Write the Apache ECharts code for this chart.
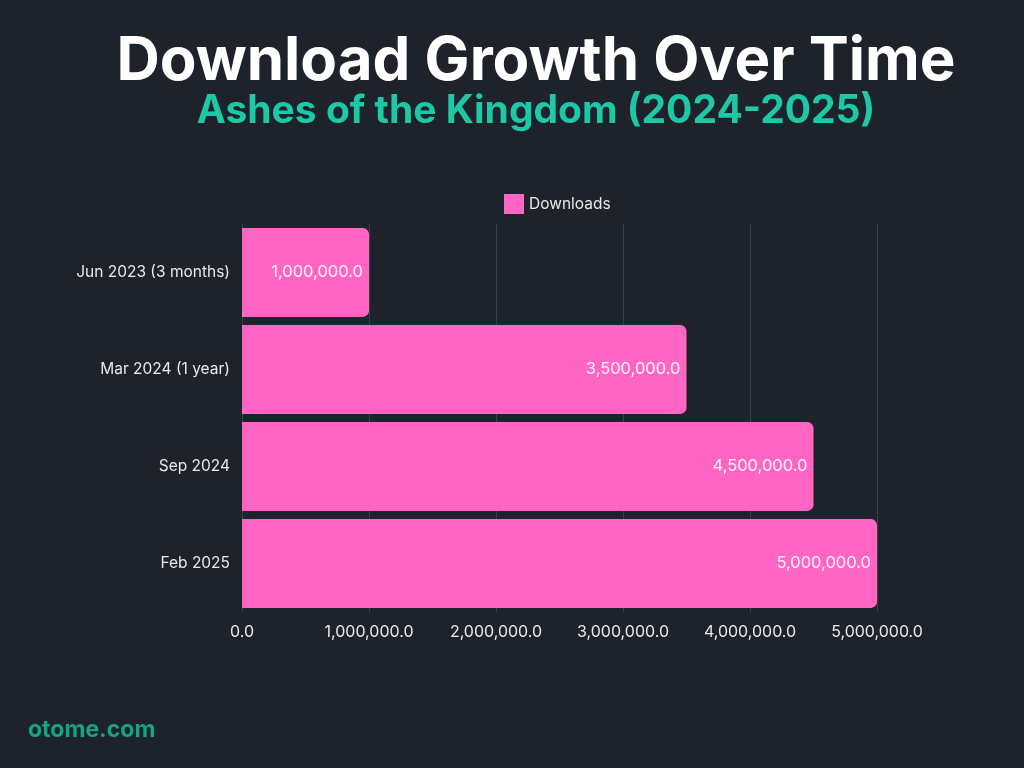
<!DOCTYPE html>
<html><head><meta charset="utf-8">
<script src="https://cdn.jsdelivr.net/npm/echarts@6/dist/echarts.min.js"></script>
<style>html,body{margin:0;padding:0;background:#1e222a;}#c{width:1024px;height:768px;}</style>
</head><body><div id="c"></div>
<script>
const categories = ["Jun 2023 (3 months)", "Mar 2024 (1 year)", "Sep 2024", "Feb 2025"];
const downloads = [1000000, 3500000, 4500000, 5000000];
const seriesName = "Downloads";
const titleText = "Download Growth Over Time";
const subtitleText = "Ashes of the Kingdom (2024-2025)";
const footerText = "otome.com";

const fmt = v => Number(v).toLocaleString('en-US', {minimumFractionDigits:1, maximumFractionDigits:1});
const chart = echarts.init(document.getElementById('c'), null, {renderer:'canvas'});
chart.setOption({
  backgroundColor: '#1e222a',
  animation: false,
  graphic: [
    {type:'text', x:536, y:62, style:{text:titleText, fill:'#ffffff', font:'bold 60px Inter, Roboto, sans-serif', textAlign:'center', textVerticalAlign:'middle'}},
    {type:'text', x:536, y:111, style:{text:subtitleText, fill:'#1cc8a6', font:'bold 39px Inter, Roboto, sans-serif', textAlign:'center', textVerticalAlign:'middle'}},
    {type:'text', x:28, y:730, style:{text:footerText, fill:'#17a283', font:'bold 23px Inter, Roboto, sans-serif', textAlign:'left', textVerticalAlign:'middle'}}
  ],
  legend: {
    top: 189, left: 499,
    itemWidth: 20, itemHeight: 20, itemGap: 6,
    icon: 'rect',
    textStyle: {color:'#e8e8e8', fontSize:15.5, fontFamily:'Inter, Roboto, sans-serif'},
    data: [seriesName]
  },
  grid: {left: 242, right: 147, top: 224, bottom: 156, containLabel: false},
  xAxis: {
    type: 'value', min: 0, max: 5000000, interval: 1000000,
    axisLine: {show:false}, axisTick: {show:false},
    splitLine: {show:true, lineStyle:{color:'#3a3e46', width:1}},
    axisLabel: {color:'#e8e8e8', fontSize:16, fontFamily:'Inter, Roboto, sans-serif', margin:12, formatter: fmt}
  },
  yAxis: {
    type: 'category', data: categories, inverse: true,
    axisLine: {show:false}, axisTick: {show:false},
    axisLabel: {color:'#e8e8e8', fontSize:15.5, fontFamily:'Inter, Roboto, sans-serif', margin:12}
  },
  series: [{
    name: seriesName, type: 'bar', data: downloads,
    barCategoryGap: '8.5%',
    itemStyle: {color:'#ff66c4', borderRadius:[0,6,6,0]},
    label: {show:true, position:'insideRight', distance:6, color:'#fff4fa', fontSize:16.5, fontFamily:'Inter, Roboto, sans-serif', formatter: p => fmt(p.value)}
  }]
});
</script></body></html>
